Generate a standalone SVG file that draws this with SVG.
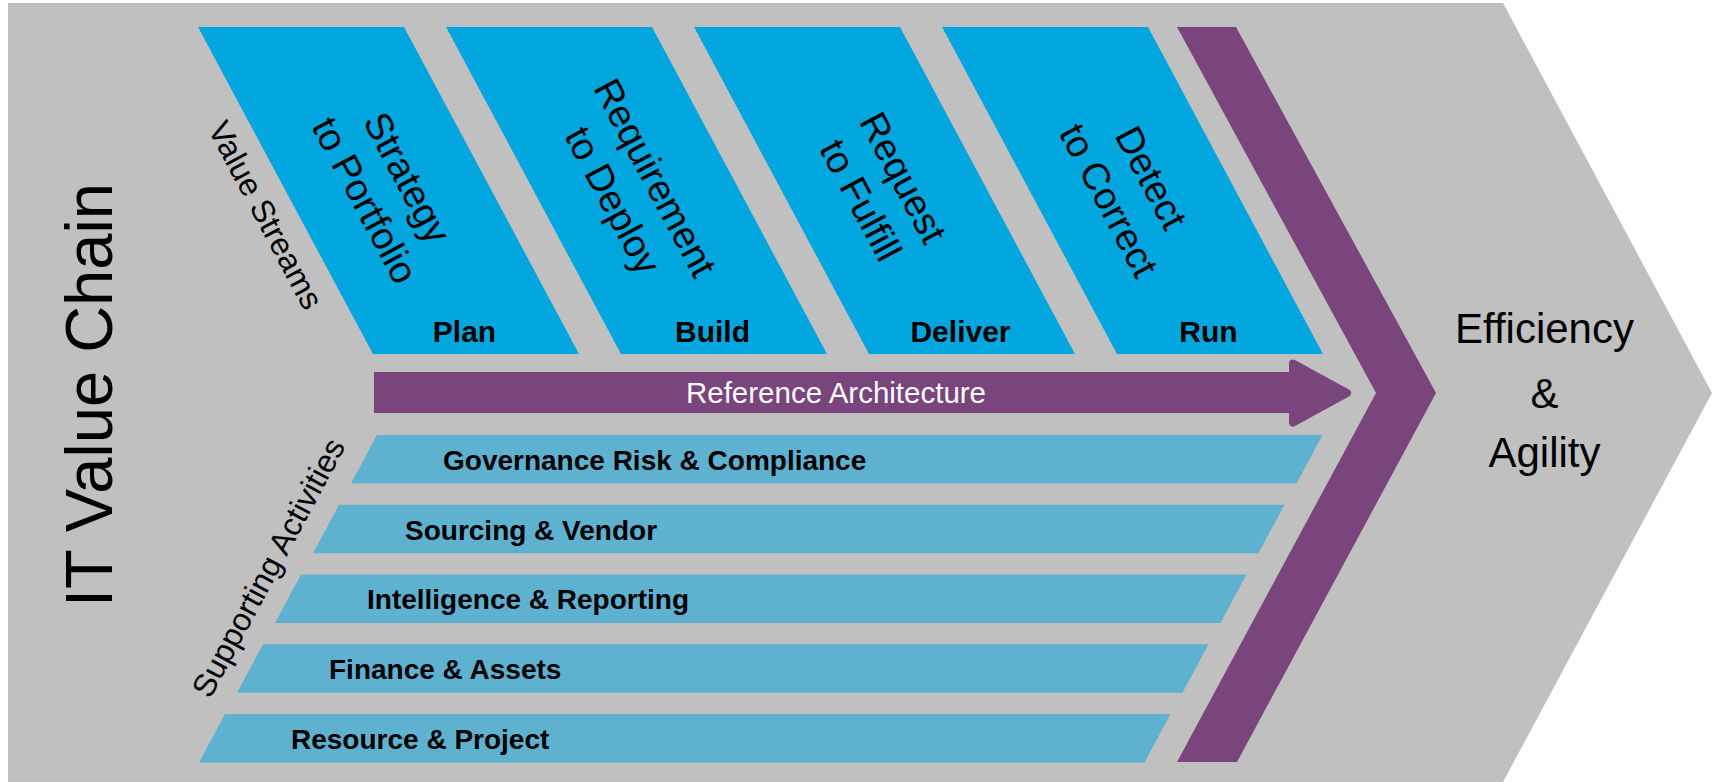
<svg xmlns="http://www.w3.org/2000/svg" width="1717" height="782" viewBox="0 0 1717 782">
  <style>
    .bg { fill: #C0C0C0; }
    .stream { fill: #00A6DD; }
    .bar { fill: #5EB1CF; }
    .purple { fill: #7A447C; }
    .t { font-family: "Liberation Sans", Arial, sans-serif; fill: #000; }
    .lbl { font-size: 30px; font-weight: bold; text-anchor: middle; }
    .rot { font-size: 38px; text-anchor: middle; }
    .barlbl { font-size: 28px; font-weight: bold; }
    .side { font-size: 32px; text-anchor: middle; }
  </style>
  <g id="background">
    <polygon class="bg" points="8,3 1503,3 1712,393 1503,782 8,782"/>
  </g>
  <g id="title">
    <text class="t" transform="translate(111.5,395) rotate(-90)" font-size="67" text-anchor="middle" textLength="424" lengthAdjust="spacingAndGlyphs">IT Value Chain</text>
  </g>
  <g id="label-value-streams">
    <text class="t side" transform="translate(266,215) rotate(62)" y="11.4">Value Streams</text>
  </g>
  <g id="label-supporting-activities">
    <text class="t side" transform="translate(271,569) rotate(-61.8)" y="8">Supporting Activities</text>
  </g>
  <g id="stream-plan">
    <polygon class="stream" points="198,27 404,27 579,354 373,354"/>
    <g transform="translate(386,189) rotate(62)">
      <text class="t rot" x="0" y="-11">Strategy</text>
      <text class="t rot" x="0" y="37">to Portfolio</text>
    </g>
    <text class="t lbl" x="464.5" y="342">Plan</text>
  </g>
  <g id="stream-build">
    <polygon class="stream" points="446,27 652,27 827,354 621,354"/>
    <g transform="translate(634,189) rotate(62)">
      <text class="t rot" x="0" y="-11">Requirement</text>
      <text class="t rot" x="0" y="37">to Deploy</text>
    </g>
    <text class="t lbl" x="712.5" y="342">Build</text>
  </g>
  <g id="stream-deliver">
    <polygon class="stream" points="694,27 900,27 1075,354 869,354"/>
    <g transform="translate(882,189) rotate(62)">
      <text class="t rot" x="0" y="-11">Request</text>
      <text class="t rot" x="0" y="37">to Fulfill</text>
    </g>
    <text class="t lbl" x="960.5" y="342">Deliver</text>
  </g>
  <g id="stream-run">
    <polygon class="stream" points="942,27 1148,27 1323,354 1117,354"/>
    <g transform="translate(1130,189) rotate(62)">
      <text class="t rot" x="0" y="-11">Detect</text>
      <text class="t rot" x="0" y="37">to Correct</text>
    </g>
    <text class="t lbl" x="1208.5" y="342">Run</text>
  </g>
  <g id="reference-architecture">
    <rect class="purple" x="374" y="372" width="920" height="41"/>
    <polygon class="purple" points="1293,363.5 1347,393 1293,422.5" stroke="#7A447C" stroke-width="8" stroke-linejoin="round"/>
    <text class="t" x="836" y="403" font-size="29.5" style="fill:#FFFFFF" text-anchor="middle">Reference Architecture</text>
  </g>
  <g id="activity-grc">
    <polygon class="bar" points="377,435 1322.5,435 1296.5,483.5 351,483.5"/>
    <text class="t barlbl" x="443" y="469.8">Governance Risk &amp; Compliance</text>
  </g>
  <g id="activity-sourcing">
    <polygon class="bar" points="339,504.75 1284.5,504.75 1258.5,553.25 313,553.25"/>
    <text class="t barlbl" x="405" y="539.5">Sourcing &amp; Vendor</text>
  </g>
  <g id="activity-intelligence">
    <polygon class="bar" points="301,574.5 1246.5,574.5 1220.5,623 275,623"/>
    <text class="t barlbl" x="367" y="609.3">Intelligence &amp; Reporting</text>
  </g>
  <g id="activity-finance">
    <polygon class="bar" points="263,644.25 1208.5,644.25 1182.5,692.75 237,692.75"/>
    <text class="t barlbl" x="329" y="679">Finance &amp; Assets</text>
  </g>
  <g id="activity-resource">
    <polygon class="bar" points="225,714 1170.5,714 1144.5,762.5 199,762.5"/>
    <text class="t barlbl" x="291" y="748.8">Resource &amp; Project</text>
  </g>
  <g id="chevron">
    <polygon class="purple" points="1177,27 1236,27 1436,393 1237,762 1177,762 1376,393"/>
  </g>
  <g id="outcome">
    <text class="t" font-size="42" text-anchor="middle" x="1544.5" y="342.5">Efficiency</text>
    <text class="t" font-size="42" text-anchor="middle" x="1544.5" y="408">&amp;</text>
    <text class="t" font-size="42" text-anchor="middle" x="1544.5" y="467">Agility</text>
  </g>
  <g id="connectors"/>
</svg>
